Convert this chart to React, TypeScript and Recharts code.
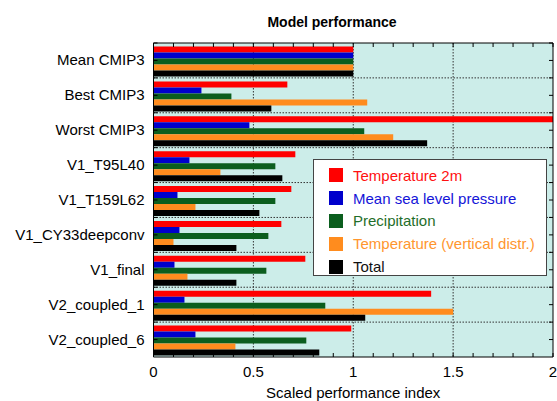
import React from 'react';
import { BarChart, Bar, XAxis, YAxis, CartesianGrid, Legend } from 'recharts';

const categories = [
  'Mean CMIP3',
  'Best CMIP3',
  'Worst CMIP3',
  'V1_T95L40',
  'V1_T159L62',
  'V1_CY33deepconv',
  'V1_final',
  'V2_coupled_1',
  'V2_coupled_6',
];

const temp2m = [1, 0.67, 2.0, 0.71, 0.69, 0.64, 0.76, 1.39, 0.99];
const mslp = [1, 0.24, 0.48, 0.18, 0.12, 0.13, 0.105, 0.155, 0.21];
const precip = [1, 0.39, 1.055, 0.61, 0.61, 0.575, 0.565, 0.86, 0.765];
const tempVert = [1, 1.07, 1.2, 0.335, 0.21, 0.1, 0.17, 1.5, 0.41];
const total = [1, 0.59, 1.37, 0.645, 0.53, 0.415, 0.415, 1.06, 0.83];

const majorTicks = [0, 0.5, 1, 1.5, 2];
const minorTicks = [
  0, 0.1, 0.2, 0.3, 0.4, 0.5, 0.6, 0.7, 0.8, 0.9, 1,
  1.1, 1.2, 1.3, 1.4, 1.5, 1.6, 1.7, 1.8, 1.9, 2,
];

const series = [
  { key: 'temp2m', name: 'Temperature 2m', color: '#ff0000', text: '#ff1010' },
  { key: 'mslp', name: 'Mean sea level pressure', color: '#0000cc', text: '#1414d8' },
  { key: 'precip', name: 'Precipitation', color: '#0b5e1e', text: '#1f6e2a' },
  { key: 'tempVert', name: 'Temperature (vertical distr.)', color: '#ff8c1e', text: '#ff962e' },
  { key: 'total', name: 'Total', color: '#000000', text: '#111111' },
];

const data = categories.map((name, i) => ({
  name,
  temp2m: temp2m[i],
  mslp: mslp[i],
  precip: precip[i],
  tempVert: tempVert[i],
  total: total[i],
}));

const W = 557;
const H = 401;
const PLOT_LEFT = 153.5;
const PLOT_RIGHT = 553;
const PLOT_TOP = 43;
const PLOT_BOTTOM = 357;
const FONT = '"Liberation Sans", Arial, Helvetica, sans-serif';
const GRID = '#333';
const DASH = '1.5 1.5';
const TICK = 4;

function halfBand(payload: any) {
  if (payload && typeof payload.offset === 'number' && payload.offset > 0) return payload.offset;
  return (PLOT_BOTTOM - PLOT_TOP) / categories.length / 2;
}

function BottomTick(props: any) {
  const { payload } = props;
  const x = payload.coordinate;
  const showLabel = majorTicks.includes(payload.value);
  return (
    <g>
      <line x1={x} x2={x} y1={PLOT_BOTTOM} y2={PLOT_BOTTOM - TICK} stroke="#000" />
      {showLabel && (
        <text x={x} y={377} textAnchor="middle" fontSize={15} fontFamily={FONT} fill="#000">
          {String(payload.value)}
        </text>
      )}
    </g>
  );
}

function TopTick(props: any) {
  const { payload } = props;
  const x = payload.coordinate;
  return <line x1={x} x2={x} y1={PLOT_TOP} y2={PLOT_TOP + TICK} stroke="#000" />;
}

function LeftTick(props: any) {
  const { payload, index } = props;
  const y = payload.coordinate;
  const half = halfBand(payload);
  return (
    <g>
      {index > 0 && (
        <line
          x1={PLOT_LEFT}
          x2={PLOT_RIGHT}
          y1={y - half}
          y2={y - half}
          stroke={GRID}
          strokeDasharray={DASH}
        />
      )}
      <line x1={PLOT_LEFT} x2={PLOT_LEFT + TICK} y1={y} y2={y} stroke="#000" />
      <line x1={PLOT_LEFT} x2={PLOT_LEFT + TICK} y1={y - half} y2={y - half} stroke="#000" />
      <text x={PLOT_LEFT - 9} y={y + 5} textAnchor="end" fontSize={15} fontFamily={FONT} fill="#000">
        {payload.value}
      </text>
    </g>
  );
}

function RightTick(props: any) {
  const { payload } = props;
  const y = payload.coordinate;
  const half = halfBand(payload);
  return (
    <g>
      <line x1={PLOT_RIGHT} x2={PLOT_RIGHT - TICK} y1={y} y2={y} stroke="#000" />
      <line x1={PLOT_RIGHT} x2={PLOT_RIGHT - TICK} y1={y - half} y2={y - half} stroke="#000" />
    </g>
  );
}

function LegendBox(props: any) {
  const payload = (props.payload || []) as any[];
  // keep the series order, not the sorted legend order
  const items = series.map((s) => {
    const p = payload.find((it) => it.value === s.name);
    return { value: s.name, color: p && p.color ? p.color : s.color, text: s.text };
  });
  return (
    <div
      style={{
        width: 234,
        height: 117,
        boxSizing: 'border-box',
        background: '#fff',
        border: '1px solid #444',
        paddingTop: 4,
        fontFamily: FONT,
        fontSize: 15,
      }}
    >
      {items.map((it) => (
        <div key={it.value} style={{ display: 'flex', alignItems: 'center', height: 22.8 }}>
          <span
            style={{
              display: 'inline-block',
              width: 14,
              height: 14,
              marginLeft: 15,
              marginRight: 10,
              background: it.color,
            }}
          />
          <span style={{ color: it.text, lineHeight: '15px' }}>{it.value}</span>
        </div>
      ))}
    </div>
  );
}

export default function App() {
  return (
    <div style={{ position: 'absolute', left: 0, top: 0, width: W, height: H, background: '#fff' }}>
      <svg width={W} height={40} style={{ position: 'absolute', left: 0, top: 0 }}>
        <text x={332} y={27} textAnchor="middle" fontSize={14} fontWeight="bold" fontFamily={FONT} fill="#000">
          Model performance
        </text>
      </svg>
      <div style={{ position: 'absolute', left: 0, top: 0 }}>
        <BarChart
          width={W}
          height={H}
          data={data}
          layout="vertical"
          margin={{ top: PLOT_TOP - 1, right: W - PLOT_RIGHT - 1, bottom: 0, left: PLOT_LEFT - 150 }}
          barCategoryGap="10%"
          barGap={0}
        >
          <CartesianGrid
            xAxisId="bottom"
            yAxisId="left"
            fill="#ccede9"
            fillOpacity={1}
            horizontal={false}
            verticalValues={[0.5, 1, 1.5]}
            stroke={GRID}
            strokeDasharray={DASH}
          />
          <XAxis
            xAxisId="top"
            orientation="top"
            type="number"
            domain={[0, 2]}
            allowDataOverflow
            ticks={minorTicks}
            interval={0}
            height={1}
            tick={<TopTick />}
            tickLine={false}
            axisLine={{ stroke: '#000' }}
          />
          <XAxis
            xAxisId="bottom"
            orientation="bottom"
            type="number"
            domain={[0, 2]}
            allowDataOverflow
            ticks={minorTicks}
            interval={0}
            height={H - PLOT_BOTTOM}
            tick={<BottomTick />}
            tickLine={false}
            axisLine={{ stroke: '#000' }}
            label={{
              value: 'Scaled performance index',
              position: 'insideBottom',
              offset: 3,
              style: { fontSize: 15, fontFamily: FONT, fill: '#000' },
            }}
          />
          <YAxis
            yAxisId="left"
            type="category"
            dataKey="name"
            width={150}
            interval={0}
            tick={<LeftTick />}
            tickLine={false}
            axisLine={{ stroke: '#000' }}
          />
          <YAxis
            yAxisId="right"
            orientation="right"
            type="category"
            dataKey="name"
            width={1}
            interval={0}
            tick={<RightTick />}
            tickLine={false}
            axisLine={{ stroke: '#000' }}
          />
          <Legend
            layout="horizontal"
            verticalAlign="middle"
            align="center"
            content={<LegendBox />}
            wrapperStyle={{ left: 313, top: 159, width: 234, height: 117, right: 'auto', bottom: 'auto' }}
          />
          {series.map((s) => (
            <Bar
              key={s.key}
              dataKey={s.key}
              name={s.name}
              fill={s.color}
              xAxisId="bottom"
              yAxisId="left"
              isAnimationActive={false}
            />
          ))}
        </BarChart>
      </div>
    </div>
  );
}
